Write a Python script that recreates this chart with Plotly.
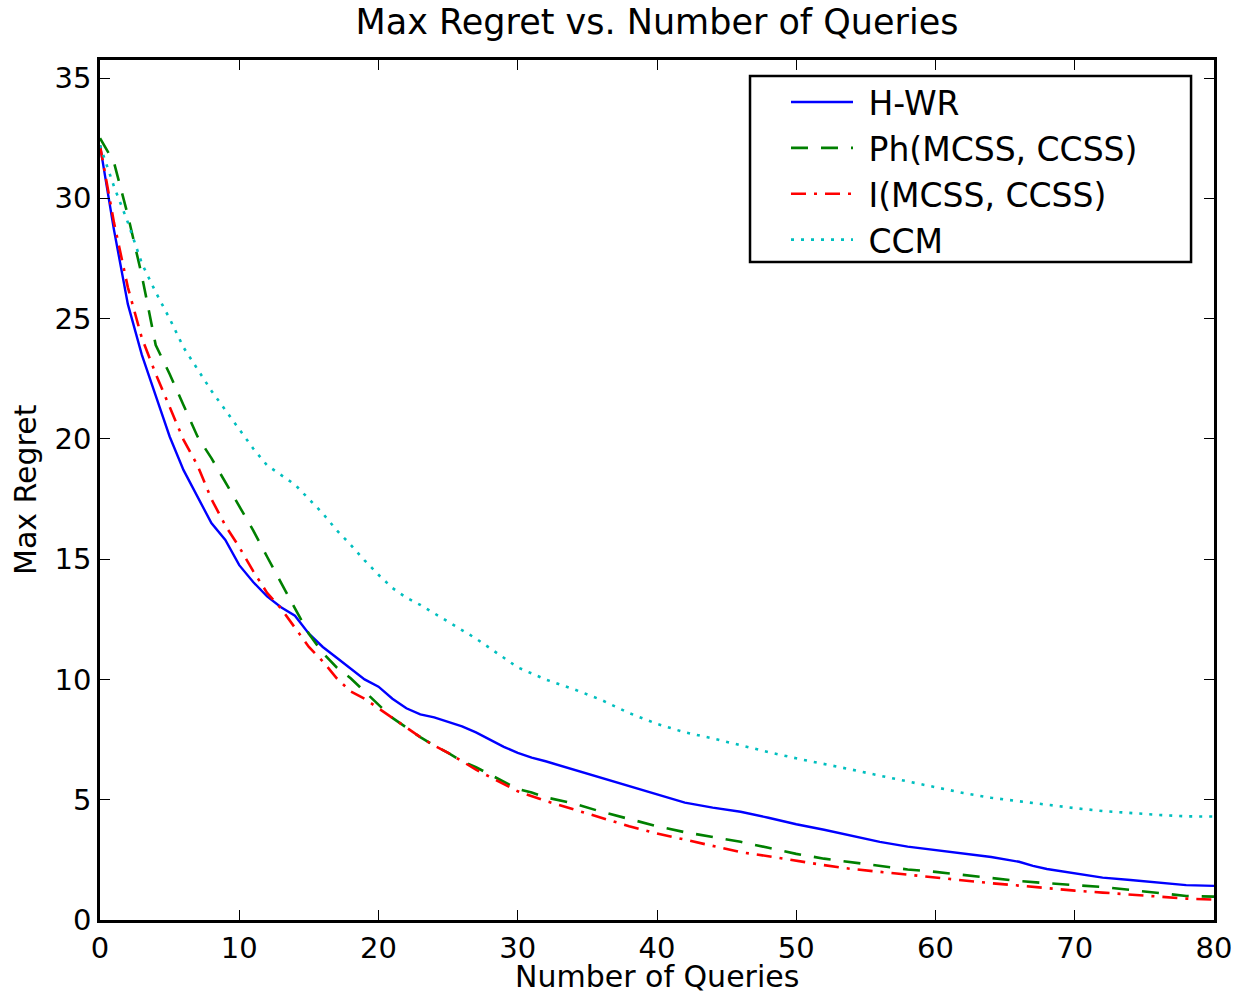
import plotly.graph_objects as go

hwr_x = [0, 1, 2, 3, 4, 5, 6, 7, 8, 9, 10, 11, 12, 13, 14, 15, 16, 17, 18, 19, 20,
         21, 22, 23, 24, 25, 26, 27, 28, 29, 30, 31, 32, 34, 36, 38, 40, 42, 44, 46,
         48, 50, 52, 54, 56, 58, 60, 62, 64, 66, 67, 68, 70, 72, 74, 76, 78, 80]
hwr_y = [32.2, 28.7, 25.6, 23.5, 21.8, 20.1, 18.7, 17.6, 16.5, 15.8, 14.75, 14.05, 13.45,
         13.0, 12.65, 11.9, 11.35, 10.9, 10.45, 10.0, 9.7, 9.2, 8.8, 8.55, 8.42, 8.25, 8.05,
         7.8, 7.5, 7.2, 6.95, 6.75, 6.6, 6.25, 5.9, 5.55, 5.2, 4.88, 4.67, 4.5, 4.25, 3.98,
         3.75, 3.5, 3.25, 3.05, 2.9, 2.75, 2.62, 2.42, 2.25, 2.12, 1.93, 1.76, 1.66, 1.57,
         1.45, 1.42]

ph_x = [0, 1, 2, 3, 4, 5, 6, 7, 8, 9, 10, 11, 12, 13, 14, 15, 16, 17, 18, 19, 20,
        21, 22, 23, 24, 25, 26, 27, 28, 29, 30, 31, 32, 34, 36, 38, 40, 42, 44, 46,
        48, 50, 52, 54, 56, 58, 60, 62, 64, 66, 68, 70, 72, 74, 76, 78, 80]
ph_y = [32.5, 31.5, 29.3, 26.8, 23.9, 22.7, 21.4, 20.1, 19.2, 18.2, 17.2, 16.2, 15.1, 14.0,
        12.95, 11.9, 11.1, 10.5, 10.05, 9.5, 8.95, 8.4, 8.0, 7.6, 7.25, 6.95, 6.6, 6.35, 6.05,
        5.75, 5.45, 5.3, 5.1, 4.85, 4.5, 4.2, 3.9, 3.65, 3.45, 3.25, 3.0, 2.75, 2.55, 2.4,
        2.23, 2.1, 2.0, 1.87, 1.76, 1.62, 1.53, 1.45, 1.37, 1.25, 1.12, 1.0, 0.97]

i_x = [0, 1, 2, 3, 4, 5, 6, 7, 8, 9, 10, 11, 12, 13, 14, 15, 16, 17, 18, 19, 20,
       21, 22, 23, 24, 25, 26, 27, 28, 29, 30, 32, 34, 36, 38, 40, 42, 44, 46,
       48, 50, 52, 54, 56, 58, 60, 62, 64, 66, 68, 70, 72, 74, 76, 78, 80]
i_y = [32.2, 29.0, 26.3, 24.2, 22.7, 21.3, 19.96, 18.9, 17.5, 16.4, 15.5, 14.5, 13.6, 12.95,
       12.15, 11.35, 10.75, 10.05, 9.5, 9.2, 8.8, 8.4, 8.0, 7.6, 7.25, 6.95, 6.6, 6.25, 5.95,
       5.65, 5.35, 4.95, 4.6, 4.25, 3.9, 3.6, 3.35, 3.08, 2.82, 2.65, 2.45, 2.28, 2.12, 2.0,
       1.88, 1.75, 1.64, 1.53, 1.43, 1.31, 1.22, 1.14, 1.06, 0.97, 0.89, 0.85]

ccm_x = [0, 1, 2, 3, 4, 5, 6, 7, 8, 9, 10, 11, 12, 13, 14, 15, 16, 17, 18, 19, 20,
         21, 22, 23, 24, 25, 26, 27, 28, 29, 30, 32, 34, 36, 38, 40, 42, 44, 46,
         48, 50, 52, 54, 56, 58, 60, 62, 64, 66, 68, 70, 72, 74, 76, 78, 80]
ccm_y = [32.2, 30.5, 29.0, 27.3, 26.1, 25.0, 23.8, 22.9, 22.0, 21.2, 20.4, 19.6, 18.9, 18.5,
         18.1, 17.5, 16.9, 16.2, 15.6, 14.95, 14.35, 13.8, 13.4, 13.1, 12.75, 12.4, 12.05,
         11.7, 11.3, 10.9, 10.5, 10.0, 9.6, 9.15, 8.6, 8.15, 7.8, 7.55, 7.25, 6.98, 6.72,
         6.5, 6.25, 6.0, 5.75, 5.5, 5.28, 5.08, 4.93, 4.78, 4.65, 4.53, 4.44, 4.37, 4.31, 4.3]

x_ticks = [0, 10, 20, 30, 40, 50, 60, 70, 80]
y_ticks = [0, 5, 10, 15, 20, 25, 30, 35]

FONT = "DejaVu Sans"
PAD = "\u00a0"

fig = go.Figure()
fig.add_trace(go.Scatter(x=hwr_x, y=hwr_y, mode="lines", name=PAD + "H-WR",
                         line=dict(color="#0000ff", width=2.4)))
fig.add_trace(go.Scatter(x=ph_x, y=ph_y, mode="lines", name=PAD + "Ph(MCSS, CCSS)",
                         line=dict(color="#008000", width=2.6, dash="17px,13px")))
fig.add_trace(go.Scatter(x=i_x, y=i_y, mode="lines", name=PAD + "I(MCSS, CCSS)",
                         line=dict(color="#ff0000", width=2.6, dash="15px,8px,3px,8px")))
fig.add_trace(go.Scatter(x=ccm_x, y=ccm_y, mode="lines", name=PAD + "CCM",
                         line=dict(color="#00bfbf", width=2.6, dash="3px,7px")))

axis_common = dict(
    showgrid=False, zeroline=False, showline=True, linecolor="black", linewidth=2.5,
    mirror="ticks", ticks="inside", ticklen=10, tickwidth=1.2, tickcolor="black",
    tickfont=dict(family=FONT, size=29, color="black"), automargin=False,
)

fig.update_layout(
    width=1236, height=991,
    paper_bgcolor="white", plot_bgcolor="white",
    margin=dict(l=100, r=22, t=60, b=71),
    title=dict(text="Max Regret vs. Number of Queries", x=0.5, xanchor="center",
               xref="paper", y=0.978, yanchor="middle",
               font=dict(family=FONT, size=35, color="black")),
    xaxis=dict(range=[0, 80], tickvals=x_ticks, ticktext=[str(v) for v in x_ticks],
               **axis_common),
    yaxis=dict(range=[0, 35.75], tickvals=y_ticks, ticktext=[str(v) for v in y_ticks],
               **axis_common),
    legend=dict(x=0.6158, y=0.9837, xanchor="left", yanchor="top",
                borderwidth=0, bgcolor="rgba(0,0,0,0)",
                font=dict(family=FONT, size=33, color="black"),
                itemwidth=62, tracegroupgap=0),
    showlegend=True,
    shapes=[
        dict(type="rect", xref="paper", yref="paper", x0=0.5835, x1=0.9794,
             y0=0.7651, y1=0.9814, line=dict(color="black", width=2.5),
             fillcolor="white", layer="above"),
    ],
    annotations=[
        dict(text="Number of Queries", xref="paper", yref="paper", x=0.5, y=0,
             yshift=-56, xanchor="center", yanchor="middle", showarrow=False,
             font=dict(family=FONT, size=30, color="black")),
        dict(text="Max Regret", xref="paper", yref="paper", x=0, y=0.5,
             xshift=-75, xanchor="center", yanchor="middle", showarrow=False, textangle=-90,
             font=dict(family=FONT, size=30, color="black")),
    ],
)

fig.write_html("out.html", config={"displayModeBar": False},
               post_script="document.body.style.margin='0';document.body.style.overflow='hidden';")
